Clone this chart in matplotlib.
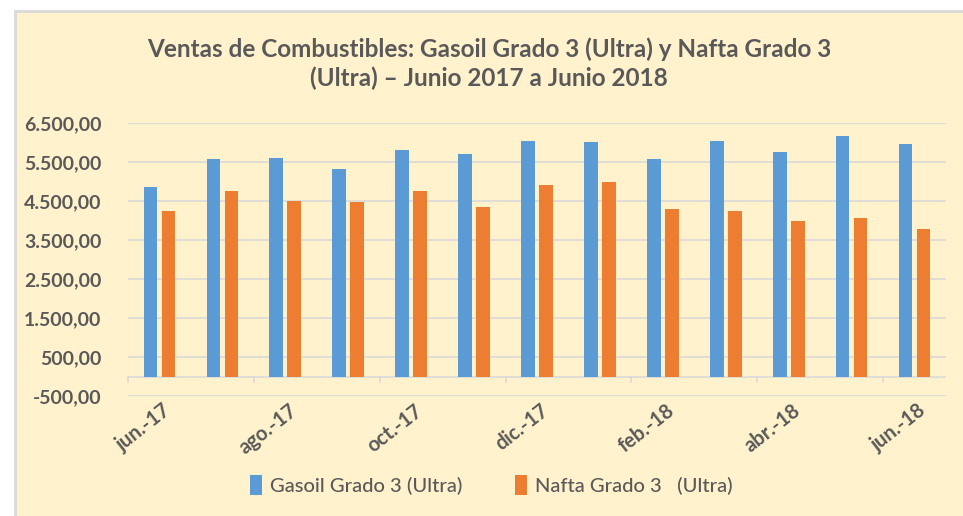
import matplotlib.pyplot as plt
import numpy as np
from matplotlib.patches import Rectangle

months = ['jun.-17', 'jul.-17', 'ago.-17', 'sep.-17', 'oct.-17', 'nov.-17',
          'dic.-17', 'ene.-18', 'feb.-18', 'mar.-18', 'abr.-18', 'may.-18',
          'jun.-18']
gasoil = [4870, 5580, 5600, 5320, 5820, 5720, 6050, 6030, 5580, 6050,
          5770, 6175, 5980]
nafta = [4260, 4760, 4510, 4480, 4760, 4340, 4920, 4985, 4310, 4260,
         4000, 4060, 3780]
yticks = [-500, 500, 1500, 2500, 3500, 4500, 5500, 6500]

BLUE = '#5B9BD5'
ORANGE = '#ED7D31'
CREAM = '#FFF2CC'
GREY = '#595959'
GRID = '#D9D9D9'

plt.rcParams['font.family'] = ['Lato', 'DejaVu Sans']

fig = plt.figure(figsize=(9.63, 5.16), dpi=100, facecolor='white')
fig.patches.append(Rectangle((15 / 963, -0.1), 1.2, 1 - 11 / 516 + 0.1,
                             transform=fig.transFigure, facecolor=CREAM,
                             edgecolor=GRID, linewidth=2, zorder=-5))

ax = fig.add_axes([128 / 963, 1 - 396 / 516, 818 / 963, 272.7 / 516])
ax.set_facecolor('none')

x = np.arange(len(months))
w = 0.218
ax.bar(x - 0.143, gasoil, w, color=BLUE, label='Gasoil Grado 3 (Ultra)', zorder=3)
ax.bar(x + 0.143, nafta, w, color=ORANGE, label='Nafta Grado 3   (Ultra)', zorder=3)

ax.set_xlim(-0.5, len(months) - 0.5)
ax.set_ylim(-500, 6500)
ax.set_yticks(yticks)
ax.set_yticklabels([f'{v:,.2f}'.replace(',', 'X').replace('.', ',').replace('X', '.')
                    for v in yticks])
for v in yticks:
    ax.axhline(v, color=GRID, linewidth=1.2, zorder=1)
ax.axhline(0, color=GRID, linewidth=1.2, zorder=2)

ax.tick_params(axis='y', length=0, labelsize=14, labelcolor=GREY, pad=19)
for lbl in ax.get_yticklabels():
    lbl.set_fontweight('bold')
for s in ax.spines.values():
    s.set_visible(False)

# x-axis drawn at zero: ticks between categories, labels every second month
ax.set_xticks([])
for i in x[::2]:
    ax.plot([i - 0.5, i - 0.5], [0, -150], color=GRID, linewidth=1.2,
            zorder=2, clip_on=False)
    ax.text(i + 0.05, -620, months[i], rotation=38, ha='right', va='top',
            rotation_mode='anchor', fontsize=14.5, fontweight='bold', color=GREY)

fig.text(0.508, 0.905, 'Ventas de Combustibles: Gasoil Grado 3 (Ultra) y Nafta Grado 3',
         ha='center', va='center', fontsize=17.5, fontweight='bold', color=GREY)
fig.text(0.508, 0.848, '(Ultra) – Junio 2017 a Junio 2018',
         ha='center', va='center', fontsize=17.5, fontweight='bold', color=GREY)

leg = fig.legend(loc='center', bbox_to_anchor=(0.51, 0.06), ncol=2, frameon=False,
                 prop={'size': 14.5, 'weight': 'medium'}, handlelength=0.6,
                 handleheight=1.1, columnspacing=2.6, handletextpad=0.4)
for t in leg.get_texts():
    t.set_color(GREY)

fig.savefig('out.png', dpi=100, facecolor=fig.get_facecolor())
